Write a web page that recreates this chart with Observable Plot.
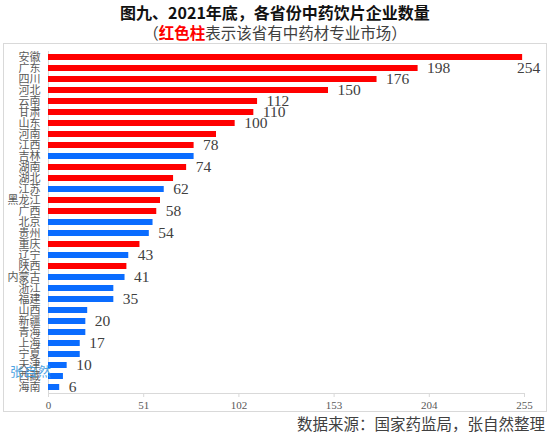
<!DOCTYPE html>
<html>
<head>
<meta charset="utf-8">
<script src="https://cdn.jsdelivr.net/npm/d3@7"></script>
<script src="https://cdn.jsdelivr.net/npm/@observablehq/plot@0.6"></script>
<style>
  html, body { margin: 0; padding: 0; background: #fff; }
  #wrap { position: relative; width: 550px; height: 434px; overflow: hidden; font-family: "Noto Sans CJK SC", sans-serif; }
  #title { position: absolute; left: 0; width: 550px; top: 1px; text-align: center; font-size: 16px; font-weight: bold; line-height: 22px; color: #111; }
  #subtitle { position: absolute; left: 0; width: 550px; top: 21px; text-align: center; font-size: 15.5px; line-height: 22px; color: #404040; }
  #subtitle b { color: #ff0000; }
  #frame { position: absolute; left: 3px; top: 43px; width: 542px; height: 367px; border: 1px solid #d9d9d9; }
  #chart { position: absolute; left: 0; top: 43px; }
  #caption { position: absolute; right: 5px; top: 412px; font-size: 15.5px; line-height: 22px; color: #404040; }
  #mark { position: absolute; left: 10px; top: 361px; font-size: 13px; color: #3d9be0; opacity: 0.9; letter-spacing: 1px; }
</style>
</head>
<body>
<div id="wrap">
  <div id="title">图九、2021年底，各省份中药饮片企业数量</div>
  <div id="subtitle">（<b>红色柱</b>表示该省有中药材专业市场）</div>
  <div id="frame"></div>
  <div id="chart"></div>
  <div id="caption">数据来源：国家药监局，张自然整理</div>
  <div id="mark">张自然</div>
</div>
<script>
const provinces = ["安徽","广东","四川","河北","云南","甘肃","山东","河南","江西","吉林","湖南","湖北","江苏","黑龙江","广西","北京","贵州","重庆","辽宁","陕西","内蒙古","浙江","福建","山西","新疆","青海","上海","宁夏","天津","西藏","海南"];
const counts = [254,198,176,150,112,110,100,90,78,78,74,67,62,60,58,56,54,49,43,42,41,35,35,21,20,20,17,17,10,8,6];
const hasMarket = [true,true,true,true,true,true,true,true,true,false,true,true,false,true,true,false,false,true,false,true,false,false,false,false,false,false,false,false,false,false,false];
const showLabel = [true,true,true,true,true,true,true,false,true,false,true,false,true,false,true,false,true,false,true,false,true,false,true,false,true,false,true,false,true,false,true];
const xTicks = [0,51,102,153,204,255];

const RED = "#ff0000", BLUE = "#0a6cff";
const data = provinces.map((p, i) => ({name: p, value: counts[i], market: hasMarket[i], label: showLabel[i]}));

const labelFont = "'Liberation Serif', 'DejaVu Serif', serif";

let marks = [
  Plot.ruleX([0], {stroke: "#d9d9d9", strokeWidth: 1}),
  Plot.barX(data, {x: "value", y: "name", fill: d => d.market ? RED : BLUE}),
  Plot.text(data.filter(d => d.label && d.value < 250), {x: "value", y: "name", text: d => String(d.value), dx: 9, textAnchor: "start", fontSize: 15.5, fontFamily: labelFont, fill: "#404040"}),
  Plot.text(data.filter(d => d.label && d.value >= 250), {x: "value", y: "name", text: d => String(d.value), dx: 6, dy: 11, textAnchor: "middle", fontSize: 15.5, fontFamily: labelFont, fill: "#404040"}),
  Plot.axisX({ticks: xTicks, tickSize: 4, tickPadding: 4, fontSize: 11, fontFamily: labelFont, fill: "#595959", stroke: "#d9d9d9", tickFormat: d => String(d)}),
  Plot.axisY({tickSize: 0, tickPadding: 8, fontSize: 11, fontFamily: "'Noto Sans CJK SC', sans-serif", fill: "#595959"})
];
try {
  marks.splice(1, 0, Plot.frame({anchor: "bottom", stroke: "#d9d9d9"}));
} catch (e) {}

const chart = Plot.plot({
  width: 550,
  height: 380,
  marginLeft: 48,
  marginRight: 26,
  marginTop: 8,
  marginBottom: 30,
  style: {background: "transparent", overflow: "visible"},
  x: {domain: [0, 255], label: null},
  y: {domain: provinces, label: null, paddingInner: 0.5, paddingOuter: 0.25},
  marks
});
document.getElementById("chart").appendChild(chart);
</script>
</body>
</html>
